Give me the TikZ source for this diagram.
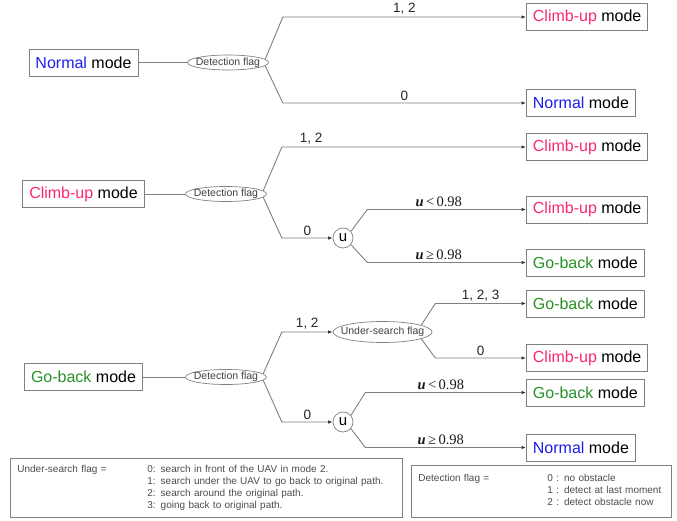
\documentclass[tikz,border=0pt]{standalone}
\usepackage{fontspec}
\setmainfont{Liberation Sans}
\newfontfamily\seriffont{Liberation Serif}
\usetikzlibrary{shapes.geometric,arrows.meta}

\definecolor{normalblue}{RGB}{30,30,235}
\definecolor{climbpink}{RGB}{250,40,110}
\definecolor{gobackgreen}{RGB}{40,145,40}
\definecolor{linegray}{RGB}{128,128,128}

\newcommand{\nmode}{{\color{normalblue}Normal} mode}
\newcommand{\cmode}{{\color{climbpink}Climb-up} mode}
\newcommand{\gmode}{{\color{gobackgreen}Go-back} mode}
\newcommand{\ulow}{\textbf{\textit{u}}\,<\,0.98}
\newcommand{\uhigh}{\textbf{\textit{u}}\,≥\,0.98}

\begin{document}
\begin{tikzpicture}[
  x=1pt, y=-1pt,
  modebox/.style={draw=linegray, line width=0.8pt, fill=white,
    font=\fontsize{16}{19}\selectfont, inner xsep=6.5pt, minimum height=27pt},
  flagnode/.style={ellipse, draw=linegray, line width=0.7pt, text=black!75,
    inner xsep=-7pt, inner ysep=-2pt, minimum width=81pt, minimum height=15pt,
    font=\fontsize{10.5}{12}\selectfont},
  rnd/.style={circle, draw=linegray, line width=0.7pt, minimum size=20pt,
    inner sep=0pt, font=\fontsize{15}{18}\selectfont},
  link/.style={draw=linegray, line width=0.9pt},
  lbl/.style={above=1pt, inner sep=1pt, text=black!85,
    font=\fontsize{13.5}{16}\selectfont},
  ulbl/.style={above=1pt, inner sep=1pt, text=black!90,
    font=\fontsize{14.5}{17}\seriffont},
  keybox/.style={draw=linegray, line width=0.8pt, anchor=north west,
    align=left, text=black!70, font=\fontsize{10}{12}\selectfont,
    inner xsep=7pt},
  >={Latex[length=4.5pt,width=3.5pt,color=black!80]}]
  \useasboundingbox (0,0) rectangle (677,521);

  % Normal mode
  \node[modebox] (nm1) at (83.5,62.5) {\nmode};
  \node[flagnode] (df1) at (228,62.5) {Detection flag};
  \node[modebox, anchor=west] (cu1) at (526,17) {\cmode};
  \node[modebox, anchor=west] (nm2) at (526,103) {\nmode};

  \draw[link] (nm1) -- (df1);
  \draw[link,->] (df1.5) -- ([xshift=14pt]df1.east |- cu1) -- node[lbl]{1, 2} (cu1);
  \draw[link,->] (df1.-5) -- ([xshift=14pt]df1.east |- nm2) -- node[lbl]{0} (nm2);

  % Climb-up mode
  \node[modebox] (cu2) at (83.5,194) {\cmode};
  \node[flagnode] (df2) at (226,194) {Detection flag};
  \node[rnd] (u1) at (343,238) {u};
  \node[modebox, anchor=west] (cu3) at (526,147) {\cmode};
  \node[modebox, anchor=west] (cu4) at (526,209.5) {\cmode};
  \node[modebox, anchor=west] (gb1) at (526,262.5) {\gmode};

  \draw[link] (cu2) -- (df2);
  \draw[link,->] (df2.5) -- ([xshift=15pt]df2.east |- cu3) -- node[lbl,pos=0.12]{1, 2} (cu3);
  \draw[link,->] (df2.-5) -- ([xshift=15pt]df2.east |- u1) -- node[lbl]{0} (u1);
  \draw[link,->] (u1.40) -- ([xshift=14pt]u1.east |- cu4) -- node[ulbl,pos=0.45]{\ulow} (cu4);
  \draw[link,->] (u1.-40) -- ([xshift=14pt]u1.east |- gb1) -- node[ulbl,pos=0.45]{\uhigh} (gb1);

  % Go-back mode
  \node[modebox] (gb2) at (83.5,377) {\gmode};
  \node[flagnode] (df3) at (226,377) {Detection flag};
  \node[flagnode, inner xsep=-12pt, minimum width=99pt, minimum height=21pt,
    font=\fontsize{10.5}{12}\selectfont] (usf) at (382.5,332) {Under-search flag};
  \node[rnd] (u2) at (343,422) {u};
  \node[modebox, anchor=west] (gb3) at (526,303.5) {\gmode};
  \node[modebox, anchor=west] (cu5) at (526,358) {\cmode};
  \node[modebox, anchor=west] (gb4) at (526,392.5) {\gmode};
  \node[modebox, anchor=west] (nm3) at (526,447.5) {\nmode};

  \draw[link] (gb2) -- (df3);
  \draw[link,->] (df3.5) -- ([xshift=15pt]df3.east |- usf) -- node[lbl]{1, 2} (usf);
  \draw[link,->] (df3.-5) -- ([xshift=15pt]df3.east |- u2) -- node[lbl]{0} (u2);
  \draw[link,->] (usf.10) -- ([xshift=3pt]usf.east |- gb3) -- node[lbl]{1, 2, 3} (gb3);
  \draw[link,->] (usf.-10) -- ([xshift=3pt]usf.east |- cu5) -- node[lbl]{0} (cu5);
  \draw[link,->] (u2.40) -- ([xshift=12pt]u2.east |- gb4) -- node[ulbl,pos=0.47]{\ulow} (gb4);
  \draw[link,->] (u2.-40) -- ([xshift=12pt]u2.east |- nm3) -- node[ulbl,pos=0.47]{\uhigh} (nm3);

  % flag keys
  \node[keybox, text width=378pt, inner ysep=5.5pt] (uskey) at (10,458) {%
    \begin{tabular}{@{}p{130pt}@{}l@{}}
      Under-search flag = & 0: search in front of the UAV in mode 2.\\
       & 1: search under the UAV to go back to original path.\\
       & 2: search around the original path.\\
       & 3: going back to original path.
    \end{tabular}};
  \node[keybox, text width=246pt, inner ysep=8pt] (dfkey) at (411,465) {%
    \begin{tabular}{@{}p{129pt}@{}l@{}}
      Detection flag = & 0 : no obstacle\\
       & 1 : detect at last moment\\
       & 2 : detect obstacle now
    \end{tabular}};
\end{tikzpicture}
\end{document}
